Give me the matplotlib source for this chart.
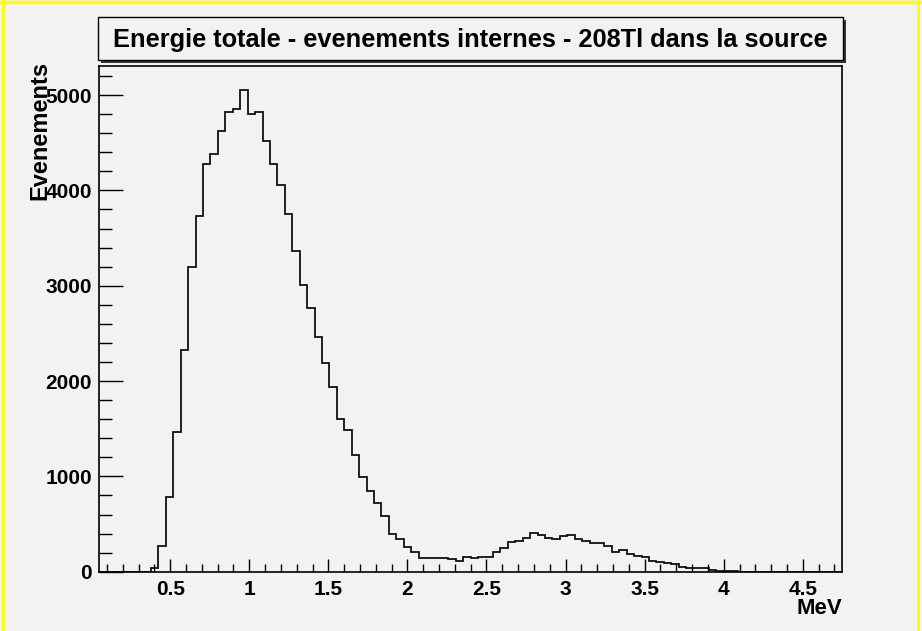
import numpy as np
import matplotlib
matplotlib.use("Agg")
import matplotlib.pyplot as plt
from matplotlib.patches import Rectangle
from matplotlib.lines import Line2D
from matplotlib.ticker import MultipleLocator, FixedLocator

# ---- data -------------------------------------------------------------
title = "Energie totale - evenements internes - 208Tl dans la source"
x_label = "MeV"
y_label = "Evenements"
x_range = (0.05, 4.75)
n_bins = 100
counts = [
    0, 0, 0, 0, 0, 0, 0,
    42, 270, 780, 1463, 2326, 3194, 3736, 4275, 4386, 4627,
    4827, 4855, 5055, 4803, 4827, 4519, 4275, 4058, 3750, 3368,
    3008, 2770, 2466, 2187, 1941, 1606, 1487, 1221, 991, 850,
    724, 581, 396, 340, 259, 210, 147, 147, 147, 147,
    130, 112, 157, 140, 157, 157, 210, 245, 308, 325,
    357, 409, 385, 357, 343, 375, 385, 343, 325, 301,
    301, 273, 207, 228, 186, 168, 151, 112, 102, 88,
    78, 52, 42, 42, 36, 18, 10, 10, 10,
    0, 0, 0, 0, 0, 0, 0, 0, 0, 0, 0, 0, 0, 0,
]
x_ticks = [0.5, 1.0, 1.5, 2.0, 2.5, 3.0, 3.5, 4.0, 4.5]
x_tick_labels = ["0.5", "1", "1.5", "2", "2.5", "3", "3.5", "4", "4.5"]
y_ticks = [0, 1000, 2000, 3000, 4000, 5000]
y_tick_labels = ["0", "1000", "2000", "3000", "4000", "5000"]

# ---- figure -----------------------------------------------------------
W, H = 922, 631
bg = "#f2f2f2"
plt.rcParams["font.family"] = ["Liberation Sans", "DejaVu Sans"]
fig = plt.figure(figsize=(W / 100, H / 100), dpi=100, facecolor=bg)

def fx(px):
    return px / W

def fy(py):
    return 1 - py / H

ax_l, ax_r, ax_t, ax_b = 99, 842.3, 65.7, 571.7
ax = fig.add_axes([fx(ax_l), fy(ax_b), fx(ax_r - ax_l), (ax_b - ax_t) / H])
ax.set_facecolor(bg)

edges = np.linspace(x_range[0], x_range[1], n_bins + 1)
ax.stairs(counts, edges, color="#111111", linewidth=1.3, baseline=None)

ymax = max(counts) * 1.05
ax.set_xlim(*x_range)
ax.set_ylim(0, ymax)

ax.xaxis.set_major_locator(FixedLocator(x_ticks))
ax.set_xticklabels(x_tick_labels)
ax.xaxis.set_minor_locator(MultipleLocator(0.1))
ax.yaxis.set_major_locator(FixedLocator(y_ticks))
ax.set_yticklabels(y_tick_labels)
ax.yaxis.set_minor_locator(MultipleLocator(200))

ax.tick_params(axis="x", which="major", direction="in", length=9.5, width=1.0,
               pad=6, labelsize=15, top=False)
ax.tick_params(axis="x", which="minor", direction="in", length=5.5, width=1.0, top=False)
ax.tick_params(axis="y", which="major", direction="in", length=17, width=1.0,
               pad=5, labelsize=15, right=False)
ax.tick_params(axis="y", which="minor", direction="in", length=9, width=1.0, right=False)
for lab in ax.get_xticklabels() + ax.get_yticklabels():
    lab.set_fontweight("bold")

for s in ax.spines.values():
    s.set_color("black")
    s.set_linewidth(1.2)

# axis titles
fig.text(fx(842), fy(609), x_label, ha="right", va="center",
         fontsize=16, fontweight="bold")
fig.text(fx(40), fy(61), y_label, ha="center", va="top", rotation=90,
         fontsize=17, fontweight="bold")

# title box with shadow
bx_l, bx_r, bx_t, bx_b = 98, 843, 17, 60
fig.patches.append(Rectangle((fx(bx_l + 3), fy(bx_b + 3)), fx(bx_r - bx_l), (bx_b - bx_t) / H,
                             transform=fig.transFigure, facecolor="#333333",
                             edgecolor="none", zorder=5))
fig.patches.append(Rectangle((fx(bx_l), fy(bx_b)), fx(bx_r - bx_l), (bx_b - bx_t) / H,
                             transform=fig.transFigure, facecolor=bg,
                             edgecolor="black", linewidth=1.0, zorder=6))
fig.text(fx((bx_l + bx_r) / 2), fy((bx_t + bx_b) / 2 + 1), title, ha="center", va="center",
         fontsize=18.3, fontweight="bold", zorder=7)

# yellow canvas border
yellow = "#ffff00"
fig.lines.append(Line2D([0, 1], [fy(2), fy(2)], transform=fig.transFigure,
                        color=yellow, linewidth=2.5))
fig.lines.append(Line2D([fx(3), fx(3)], [0, 1], transform=fig.transFigure,
                        color=yellow, linewidth=2.0))
fig.lines.append(Line2D([fx(918), fx(918)], [0, 1], transform=fig.transFigure,
                        color=yellow, linewidth=2.0))

fig.savefig("out.png", dpi=100, facecolor=bg)
